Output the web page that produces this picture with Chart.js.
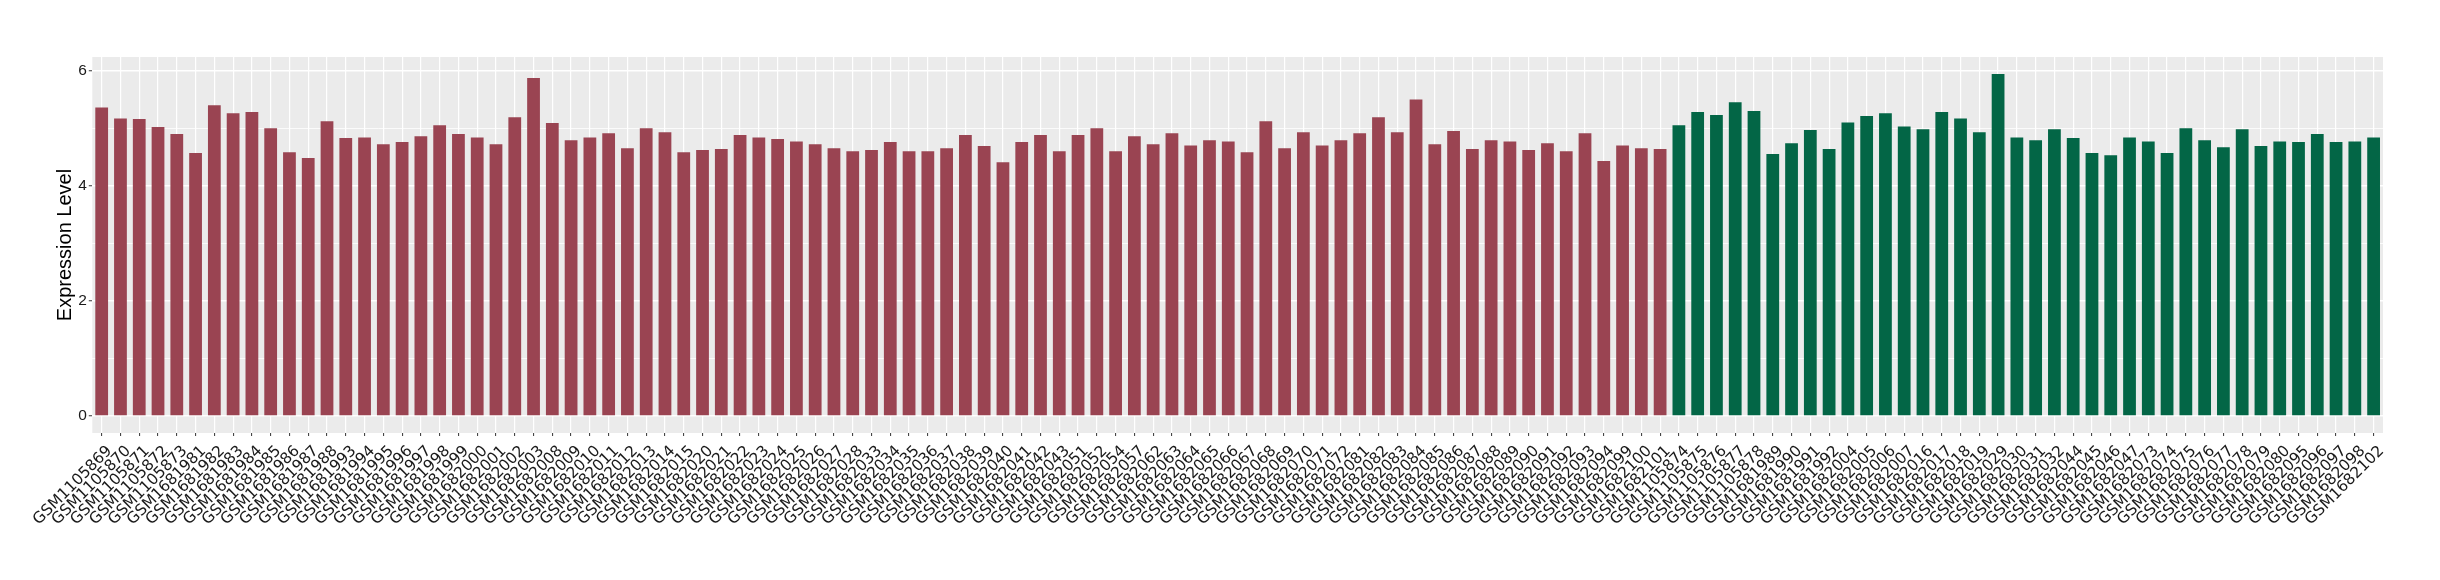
<!DOCTYPE html>
<html>
<head>
<meta charset="utf-8">
<script src="https://cdn.jsdelivr.net/npm/chart.js@4"></script>
<style>
  html, body { margin: 0; padding: 0; background: #ffffff; }
  #chart { display: block; }
</style>
</head>
<body>
<canvas id="chart" width="2440" height="580"></canvas>
<script>
// sample ids, in plotting order
const groupASamples = [
  "GSM1105869", "GSM1105870", "GSM1105871", "GSM1105872", "GSM1105873",
  "GSM1681981", "GSM1681982", "GSM1681983", "GSM1681984", "GSM1681985",
  "GSM1681986", "GSM1681987", "GSM1681988", "GSM1681993", "GSM1681994",
  "GSM1681995", "GSM1681996", "GSM1681997", "GSM1681998", "GSM1681999",
  "GSM1682000", "GSM1682001", "GSM1682002", "GSM1682003", "GSM1682008",
  "GSM1682009", "GSM1682010", "GSM1682011", "GSM1682012", "GSM1682013",
  "GSM1682014", "GSM1682015", "GSM1682020", "GSM1682021", "GSM1682022",
  "GSM1682023", "GSM1682024", "GSM1682025", "GSM1682026", "GSM1682027",
  "GSM1682028", "GSM1682033", "GSM1682034", "GSM1682035", "GSM1682036",
  "GSM1682037", "GSM1682038", "GSM1682039", "GSM1682040", "GSM1682041",
  "GSM1682042", "GSM1682043", "GSM1682051", "GSM1682052", "GSM1682054",
  "GSM1682057", "GSM1682062", "GSM1682063", "GSM1682064", "GSM1682065",
  "GSM1682066", "GSM1682067", "GSM1682068", "GSM1682069", "GSM1682070",
  "GSM1682071", "GSM1682072", "GSM1682081", "GSM1682082", "GSM1682083",
  "GSM1682084", "GSM1682085", "GSM1682086", "GSM1682087", "GSM1682088",
  "GSM1682089", "GSM1682090", "GSM1682091", "GSM1682092", "GSM1682093",
  "GSM1682094", "GSM1682099", "GSM1682100", "GSM1682101"
];
const groupAValues = [
  5.36, 5.17, 5.16, 5.02, 4.90, 4.57, 5.40, 5.26, 5.28, 5.00,
  4.58, 4.48, 5.12, 4.83, 4.84, 4.72, 4.76, 4.86, 5.05, 4.90,
  4.84, 4.72, 5.19, 5.87, 5.09, 4.79, 4.84, 4.91, 4.65, 5.00,
  4.93, 4.58, 4.62, 4.64, 4.88, 4.84, 4.81, 4.77, 4.72, 4.65,
  4.60, 4.62, 4.76, 4.60, 4.60, 4.65, 4.88, 4.69, 4.41, 4.76,
  4.88, 4.60, 4.88, 5.00, 4.60, 4.86, 4.72, 4.91, 4.70, 4.79,
  4.77, 4.58, 5.12, 4.65, 4.93, 4.70, 4.79, 4.91, 5.19, 4.93,
  5.50, 4.72, 4.95, 4.64, 4.79, 4.77, 4.62, 4.74, 4.60, 4.91,
  4.43, 4.70, 4.65, 4.64
];

const groupBSamples = [
  "GSM1105874", "GSM1105875", "GSM1105876", "GSM1105877", "GSM1105878",
  "GSM1681989", "GSM1681990", "GSM1681991", "GSM1681992", "GSM1682004",
  "GSM1682005", "GSM1682006", "GSM1682007", "GSM1682016", "GSM1682017",
  "GSM1682018", "GSM1682019", "GSM1682029", "GSM1682030", "GSM1682031",
  "GSM1682032", "GSM1682044", "GSM1682045", "GSM1682046", "GSM1682047",
  "GSM1682073", "GSM1682074", "GSM1682075", "GSM1682076", "GSM1682077",
  "GSM1682078", "GSM1682079", "GSM1682080", "GSM1682095", "GSM1682096",
  "GSM1682097", "GSM1682098", "GSM1682102"
];
const groupBValues = [
  5.05, 5.28, 5.23, 5.45, 5.30, 4.55, 4.74, 4.97, 4.64, 5.10,
  5.21, 5.26, 5.03, 4.98, 5.28, 5.17, 4.93, 5.94, 4.84, 4.79,
  4.98, 4.83, 4.57, 4.53, 4.84, 4.77, 4.57, 5.00, 4.79, 4.67,
  4.98, 4.69, 4.77, 4.76, 4.90, 4.76, 4.77, 4.84
];

const yTickValues = [0, 1, 2, 3, 4, 5, 6];

const colorA = "#9a4452";
const colorB = "#036646";

const labels = groupASamples.concat(groupBSamples);
const values = groupAValues.concat(groupBValues);
const barColors = labels.map((_, i) => (i < groupASamples.length ? colorA : colorB));

// grey panel behind the bars, like ggplot's theme_gray
const panelBackground = {
  id: "panelBackground",
  beforeDraw(chart) {
    const { ctx, chartArea } = chart;
    ctx.save();
    ctx.fillStyle = "#ebebeb";
    ctx.fillRect(chartArea.left, chartArea.top, chartArea.right - chartArea.left, chartArea.bottom - chartArea.top);
    ctx.restore();
  }
};

const fontFamily = "'Liberation Sans', Arial, Helvetica, sans-serif";

new Chart(document.getElementById("chart"), {
  type: "bar",
  data: {
    labels: labels,
    datasets: [{
      data: values,
      backgroundColor: barColors,
      borderWidth: 0,
      categoryPercentage: 1,
      barPercentage: 0.68
    }]
  },
  options: {
    responsive: false,
    animation: false,
    layout: {
      padding: { top: 57, right: 57, bottom: 0, left: 0 }
    },
    plugins: {
      legend: { display: false },
      tooltip: { enabled: false }
    },
    scales: {
      x: {
        offset: true,
        grid: {
          offset: false,
          color: "#ffffff",
          lineWidth: 1.2,
          drawTicks: true,
          tickLength: 3,
          tickColor: "#333333",
          tickWidth: 1
        },
        border: { display: false },
        ticks: {
          autoSkip: false,
          minRotation: 45,
          maxRotation: 45,
          padding: 6,
          labelOffset: 8,
          color: "#1a1a1a",
          font: { family: "'DejaVu Sans', sans-serif", size: 15.5 }
        },
        afterFit(scale) {
          scale.height = 147;
        }
      },
      y: {
        min: -0.297,
        max: 6.237,
        afterBuildTicks(scale) {
          scale.ticks = yTickValues.map(v => ({ value: v }));
        },
        afterFit(scale) {
          scale.width = 92.3;
        },
        grid: {
          color: "#ffffff",
          lineWidth: ctx => (ctx.tick && ctx.tick.value % 2 === 0 ? 1.5 : 0.8),
          tickLength: 3.5,
          tickColor: ctx => (ctx.tick && ctx.tick.value % 2 === 0 ? "#333333" : "rgba(0,0,0,0)"),
          tickWidth: 1
        },
        border: { display: false },
        ticks: {
          padding: 2,
          color: "#1a1a1a",
          font: { family: fontFamily, size: 15.5 },
          callback: v => (v % 2 === 0 ? String(v) : "")
        },
        title: {
          display: true,
          text: "Expression Level",
          color: "#000000",
          font: { family: fontFamily, size: 20 },
          padding: { top: 53, bottom: 0 }
        }
      }
    }
  },
  plugins: [panelBackground]
});
</script>
</body>
</html>
